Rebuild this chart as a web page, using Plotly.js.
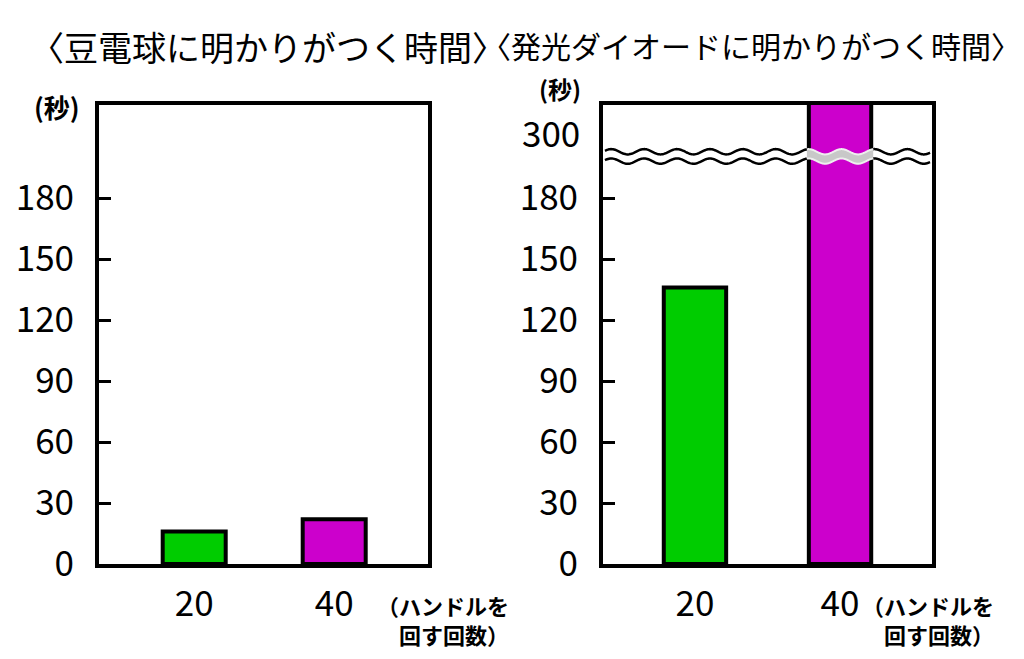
<!DOCTYPE html>
<html>
<head>
<meta charset="utf-8">
<script src="https://cdn.plot.ly/plotly-3.0.1.min.js"></script>
<style>
html,body{margin:0;padding:0;background:#fff;}
#chart{width:1024px;height:659px;}
</style>
</head>
<body>
<div id="chart"></div>
<script>
// ---- data ----
const categories = ['20', '40'];
const bulbValues = [16, 22];          // 豆電球 (秒)
const ledValues = [136, 330];         // 発光ダイオード (秒) – 40回 exceeds 300
const yTickVals = [0, 30, 60, 90, 120, 150, 180];
const ledBreakTickVal = 300;
const barColors = ['#00cc00', '#cc00cc'];
const titleBulb = '〈豆電球に明かりがつく時間〉';
const titleLed = '〈発光ダイオードに明かりがつく時間〉';
const yUnit = '(秒)';
const xUnitLines = ['（ハンドルを', '回す回数）'];

// broken axis: values above the break are shifted down
const breakLow = 200, breakShift = 86;
function brk(v) { return v <= breakLow ? v : v - breakShift; }

const W = 1024, H = 659;
const FONT = '"Noto Sans CJK JP", "Noto Sans", sans-serif';
const xd1 = [99 / W, 428 / W];
const xd2 = [603 / W, 932 / W];
const yd = [1 - 564 / H, 1 - 105 / H];
const yRange = [0, 225.8];

const traces = [
  {
    type: 'bar', x: categories, y: bulbValues, xaxis: 'x', yaxis: 'y',
    width: 0.45,
    marker: { color: barColors, line: { color: '#000', width: 4 } },
    hoverinfo: 'x+y'
  },
  {
    type: 'bar', x: categories, y: ledValues.map(brk), xaxis: 'x2', yaxis: 'y2',
    width: 0.43,
    customdata: ledValues,
    marker: { color: barColors, line: { color: '#000', width: 4 } },
    hovertemplate: '%{x}: %{customdata}<extra></extra>'
  }
];

function yAxis(anchor) {
  return {
    domain: yd, range: yRange, anchor: anchor, fixedrange: true,
    tickvals: yTickVals, ticktext: yTickVals.map(String),
    ticks: 'inside', ticklen: 12, tickwidth: 3, tickcolor: '#000',
    showline: true, mirror: true, linewidth: 4, linecolor: '#000',
    showgrid: false, zeroline: false,
    ticklabelstandoff: 14,
    tickfont: { family: FONT, size: 35, color: '#000' }
  };
}
function xAxis(domain, range, anchor) {
  return {
    domain: domain, range: range, anchor: anchor, type: 'category', fixedrange: true,
    ticks: '', showline: true, mirror: true, linewidth: 4, linecolor: '#000',
    showgrid: false, zeroline: false,
    ticklabelstandoff: 6,
    tickfont: { family: FONT, size: 35, color: '#000' }
  };
}

// wavy break band (decoration)
const waveUp = 202.8, waveLo = 198.2, amp = 1.3, periods = 10, N = 200;
function wavePts(y0, x0, x1, reverse) {
  const pts = [];
  for (let i = 0; i <= N; i++) {
    const t = i / N;
    const x = x0 + (x1 - x0) * t;
    const y = y0 + amp * Math.sin(2 * Math.PI * periods * x);
    pts.push([x, y]);
  }
  return reverse ? pts.reverse() : pts;
}
function bandPath(x0, x1) {
  const a = wavePts(waveUp, x0, x1, false);
  const b = wavePts(waveLo, x0, x1, true);
  return 'M' + a.map(p => p[0].toFixed(4) + ',' + p[1].toFixed(3)).join('L') +
         'L' + b.map(p => p[0].toFixed(4) + ',' + p[1].toFixed(3)).join('L') + 'Z';
}
function linePath(y0, x0, x1) {
  const a = wavePts(y0, x0, x1, false);
  return 'M' + a.map(p => p[0].toFixed(4) + ',' + p[1].toFixed(3)).join('L');
}
const x2Range = [-0.634, 1.634];
const barHalf = 0.43 / 2;
const bx0 = (1 - barHalf - x2Range[0]) / (x2Range[1] - x2Range[0]);
const bx1 = (1 + barHalf - x2Range[0]) / (x2Range[1] - x2Range[0]);

const shapes = [
  { type: 'path', xref: 'x2 domain', yref: 'y2', path: bandPath(0.006, 0.994),
    fillcolor: '#fff', line: { width: 0 }, layer: 'above' },
  { type: 'path', xref: 'x2 domain', yref: 'y2', path: bandPath(bx0 - 0.006, bx1 + 0.006),
    fillcolor: '#c8c8c8', line: { width: 0 }, layer: 'above' },
  { type: 'path', xref: 'x2 domain', yref: 'y2', path: linePath(waveUp, 0.006, bx0 - 0.006),
    line: { color: '#000', width: 2.5 }, layer: 'above' },
  { type: 'path', xref: 'x2 domain', yref: 'y2', path: linePath(waveLo, 0.006, bx0 - 0.006),
    line: { color: '#000', width: 2.5 }, layer: 'above' },
  { type: 'path', xref: 'x2 domain', yref: 'y2', path: linePath(waveUp, bx1 + 0.006, 0.994),
    line: { color: '#000', width: 2.5 }, layer: 'above' },
  { type: 'path', xref: 'x2 domain', yref: 'y2', path: linePath(waveLo, bx1 + 0.006, 0.994),
    line: { color: '#000', width: 2.5 }, layer: 'above' },
  { type: 'path', xref: 'x2 domain', yref: 'y2', path: linePath(waveUp, bx0 - 0.006, bx1 + 0.006),
    line: { color: '#eeeeee', width: 2 }, layer: 'above' },
  { type: 'path', xref: 'x2 domain', yref: 'y2', path: linePath(waveLo, bx0 - 0.006, bx1 + 0.006),
    line: { color: '#eeeeee', width: 2 }, layer: 'above' }
];

const annotations = [
  { text: titleBulb, xref: 'paper', yref: 'paper', x: 268 / W, y: 1 - 46 / H,
    xanchor: 'center', yanchor: 'middle', showarrow: false,
    font: { family: FONT, size: 34, color: '#000' } },
  { text: titleLed, xref: 'paper', yref: 'paper', x: 751 / W, y: 1 - 45 / H,
    xanchor: 'center', yanchor: 'middle', showarrow: false,
    font: { family: FONT, size: 30, color: '#000' } },
  { text: yUnit, xref: 'paper', yref: 'paper', x: 57 / W, y: 1 - 106 / H,
    xanchor: 'center', yanchor: 'middle', showarrow: false,
    font: { family: FONT, size: 26, color: '#000', weight: 'bold' } },
  { text: yUnit, xref: 'paper', yref: 'paper', x: 560 / W, y: 1 - 89 / H,
    xanchor: 'center', yanchor: 'middle', showarrow: false,
    font: { family: FONT, size: 24, color: '#000', weight: 'bold' } },
  { text: String(ledBreakTickVal), xref: 'paper', yref: 'y2', x: 582 / W, y: brk(ledBreakTickVal) - 1,
    xanchor: 'right', yanchor: 'middle', showarrow: false,
    font: { family: FONT, size: 35, color: '#000' } }
];
[511, 996].forEach(function (xr) {
  xUnitLines.forEach(function (line, i) {
    annotations.push({
      text: line, xref: 'paper', yref: 'paper', x: xr / W, y: 1 - (605 + i * 29) / H,
      xanchor: 'right', yanchor: 'middle', align: 'right', showarrow: false,
      font: { family: FONT, size: 22, color: '#000', weight: 'bold' }
    });
  });
});

const layout = {
  width: W, height: H,
  margin: { l: 0, r: 0, t: 0, b: 0 },
  paper_bgcolor: '#fff', plot_bgcolor: '#fff',
  showlegend: false,
  font: { family: FONT, color: '#000' },
  xaxis: xAxis(xd1, [-0.68, 1.67], 'y'),
  yaxis: yAxis('x'),
  xaxis2: xAxis(xd2, x2Range, 'y2'),
  yaxis2: yAxis('x2'),
  shapes: shapes,
  annotations: annotations
};

Plotly.newPlot('chart', traces, layout, { displayModeBar: false, staticPlot: true });
</script>
</body>
</html>
